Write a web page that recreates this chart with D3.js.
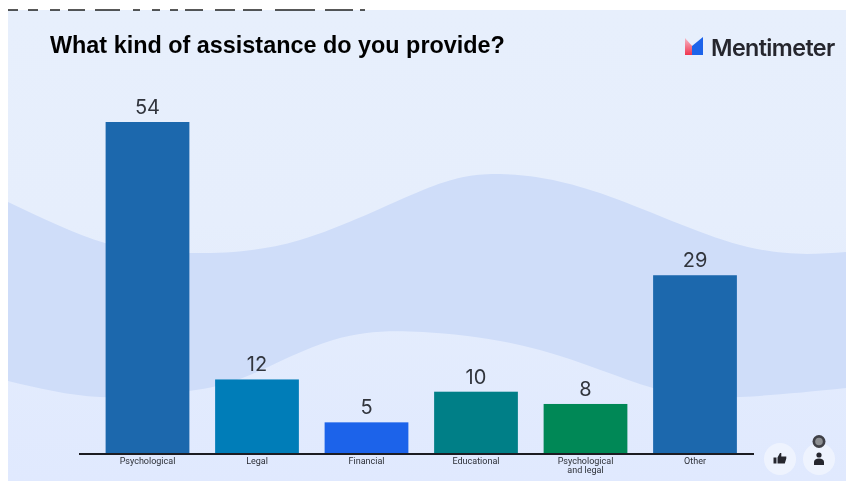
<!DOCTYPE html>
<html>
<head>
<meta charset="utf-8">
<script src="https://cdn.jsdelivr.net/npm/d3@7/dist/d3.min.js"></script>
<style>
html,body{margin:0;padding:0;background:#fff;overflow:hidden}
svg{display:block}
</style>
</head>
<body>
<svg id="c" width="846" height="481"></svg>
<script>
const categories = ["Psychological","Legal","Financial","Educational","Psychological\nand legal","Other"];
const values = [54,12,5,10,8,29];
const barColors = ["#1b67ad","#027db8","#1c63ea","#007f87","#038857","#1b67ad"];
const titleText = "What kind of assistance do you provide?";
const brandText = "Mentimeter";
// decorative background wave outlines
const waveTop = [[8,202],[105,243],[190,253],[300,240],[423,190],[500,174],[600,193],[740,245],[846,252]];
const waveBottom = [[846,388],[740,397],[653,388],[540,350],[423,332],[333,340],[250,375],[189,391],[100,397],[8,381]];
// clipped remnant of a heading above the panel: [start, end]
const clippedHeading = [[8,18],[28,38],[50,60],[68,85],[95,120],[133,140],[152,160],[170,178],[185,203],[215,235],[243,262],[275,315],[325,353],[360,365]];

const svg = d3.select("#c");
const defs = svg.append("defs");
const grad = defs.append("linearGradient").attr("id","bg").attr("x1",0).attr("x2",0).attr("y1",0).attr("y2",1);
grad.append("stop").attr("offset","0%").attr("stop-color","#e7effc");
grad.append("stop").attr("offset","45%").attr("stop-color","#e6eefc");
grad.append("stop").attr("offset","100%").attr("stop-color","#e0e9fe");
const logoG = defs.append("linearGradient").attr("id","lg").attr("x1",0).attr("x2",0).attr("y1",0).attr("y2",1);
logoG.append("stop").attr("offset","0%").attr("stop-color","#f6b8c6");
logoG.append("stop").attr("offset","100%").attr("stop-color","#f0344f");
defs.append("filter").attr("id","soft").append("feGaussianBlur").attr("stdDeviation",0.6);

const root = svg.append("g").attr("filter","url(#soft)");

root.append("rect").attr("x",8).attr("y",10).attr("width",838).attr("height",471).attr("fill","url(#bg)");
root.selectAll(".clip").data(clippedHeading).join("rect").attr("class","clip")
  .attr("x",d=>d[0]).attr("width",d=>d[1]-d[0]).attr("y",9.3).attr("height",1.4).attr("fill","#111");

const waveLine = d3.line().curve(d3.curveNatural);
root.append("path")
  .attr("d", waveLine(waveTop) + "L" + waveLine(waveBottom).slice(1) + "Z")
  .attr("fill","#cfddf9");

const x = d3.scaleBand().domain(categories).range([92.75,749.75]).paddingInner(0.235).paddingOuter(0.1175);
const y = d3.scaleLinear().domain([0,54]).range([453,122]);

root.selectAll(".bar").data(values).join("rect").attr("class","bar")
  .attr("x",(d,i)=>x(categories[i]))
  .attr("width",x.bandwidth())
  .attr("y",d=>y(d))
  .attr("height",d=>y(0)-y(d))
  .attr("fill",(d,i)=>barColors[i]);

root.selectAll(".val").data(values).join("text").attr("class","val")
  .attr("x",(d,i)=>x(categories[i])+x.bandwidth()/2)
  .attr("y",d=>y(d)-8)
  .attr("text-anchor","middle")
  .attr("font-family","Inter, 'Liberation Sans', sans-serif")
  .attr("font-size",20)
  .attr("fill","#30343c")
  .text(d=>d);

const axis = root.append("g").attr("transform","translate(0,453)")
  .call(d3.axisBottom(x).tickSize(0).tickFormat(""));
axis.select(".domain").remove();
axis.selectAll(".tick text").each(function(d){
  const t = d3.select(this).text(null)
    .attr("y",0).attr("dy",null)
    .attr("font-family","Roboto, sans-serif").attr("font-size",9).attr("fill","#2c2f36");
  d.split("\n").forEach((line,i)=>{
    t.append("tspan").attr("x",0).attr("y",11 + i*8.5).text(line);
  });
});
root.append("line").attr("x1",79).attr("x2",754).attr("y1",454).attr("y2",454)
  .attr("stroke","#1c1c22").attr("stroke-width",2);

root.append("text").attr("x",50).attr("y",53)
  .attr("font-family","'Liberation Sans', Arial, sans-serif").attr("font-weight",700)
  .attr("font-size",23.4).attr("fill","#050505").text(titleText);

// brand
const logo = root.append("g");
logo.append("path").attr("d","M685 38 L693 47 L693 55 L685 55 Z").attr("fill","url(#lg)");
logo.append("path").attr("d","M703 37 L703 55 L692 55 L692 46 Z").attr("fill","#1c63ea");
root.append("text").attr("x",711).attr("y",56)
  .attr("font-family","Inter, sans-serif").attr("font-weight",600)
  .attr("font-size",23.3).attr("letter-spacing",-0.6).attr("fill","#26282e").text(brandText);

// reaction buttons
const btnData = [780,819];
root.selectAll(".btn").data(btnData).join("circle").attr("class","btn")
  .attr("cx",d=>d).attr("cy",459).attr("r",16).attr("fill","#eef3fe");
root.append("path").attr("d","M773.5 457.5h3v6h-3z M777.5 457.5l2.5-4.5h1.3v3.5h5v2l-1.5 5h-7.3z").attr("fill","#26282e");
root.append("circle").attr("cx",819).attr("cy",455).attr("r",2.6).attr("fill","#26282e");
root.append("path").attr("d","M814 465v-3c0-2 2-3.5 5-3.5s5 1.5 5 3.5v3z").attr("fill","#26282e");
root.append("circle").attr("cx",819).attr("cy",441.5).attr("r",6.5).attr("fill","#3f4146");
root.append("circle").attr("cx",819).attr("cy",441.5).attr("r",3.8).attr("fill","#8d8f92");
</script>
</body>
</html>
